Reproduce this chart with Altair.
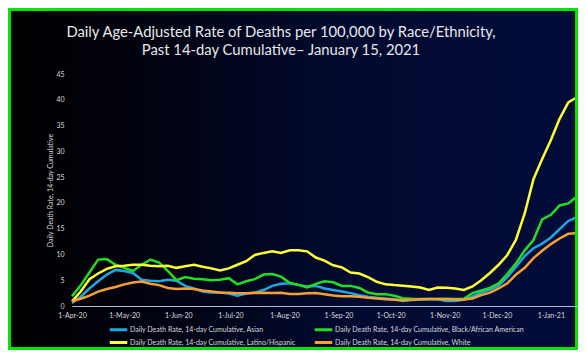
import altair as alt
import pandas as pd

# ---- data (every 5 days from 1-Apr-2020, last point 15-Jan-2021)
day_offsets = list(range(0, 290, 5)) + [289]

asian = [0.6, 1.8, 3.4, 4.8, 6.1, 7.0, 6.8, 6.4, 5.1, 4.9, 4.8, 5.1, 4.9, 3.9, 3.4, 2.8, 2.6, 2.6, 2.4, 2.0,
         2.4, 2.6, 3.1, 3.9, 4.3, 4.4, 4.1, 3.8, 3.9, 3.4, 3.1, 2.8, 2.5, 2.1, 1.8, 1.6, 1.45, 1.3, 0.95, 1.15,
         1.25, 1.3, 1.3, 0.95, 0.95, 1.2, 1.8, 2.6, 3.2, 4.0, 5.6, 7.6, 9.7, 11.2, 12.1, 13.3, 14.9, 16.5, 17.1]
black = [1.9, 4.0, 6.5, 9.0, 9.1, 8.0, 7.4, 6.8, 8.0, 9.0, 8.4, 6.8, 5.0, 5.6, 5.3, 5.2, 5.0, 5.1, 5.4, 4.2,
         4.8, 5.2, 6.1, 6.2, 5.7, 4.5, 4.1, 3.6, 4.3, 4.8, 4.6, 3.9, 3.9, 3.5, 2.6, 2.3, 2.3, 2.0, 1.5, 1.4,
         1.35, 1.35, 1.35, 1.4, 1.35, 1.4, 2.5, 3.0, 3.5, 4.4, 6.2, 8.3, 10.8, 12.8, 16.8, 17.7, 19.5, 19.9, 21.0]
latino = [0.9, 2.8, 5.2, 6.3, 7.2, 7.7, 7.8, 8.0, 8.0, 7.8, 7.7, 7.8, 7.4, 7.7, 8.0, 7.6, 7.3, 6.9, 7.3, 8.0,
          8.7, 9.9, 10.3, 10.6, 10.3, 10.8, 10.8, 10.6, 9.4, 8.8, 7.9, 7.5, 6.5, 6.3, 5.6, 4.7, 4.2, 4.05, 3.95, 3.8,
          3.6, 3.1, 3.6, 3.55, 3.4, 3.1, 3.8, 5.0, 6.4, 8.0, 9.9, 12.9, 18.0, 24.6, 28.5, 32.2, 36.3, 39.5, 40.3]
white = [0.9, 1.4, 2.0, 2.8, 3.3, 3.7, 4.2, 4.55, 4.75, 4.3, 4.05, 3.5, 3.3, 3.4, 3.3, 3.0, 2.8, 2.6, 2.55, 2.45,
         2.45, 2.5, 2.55, 2.5, 2.55, 2.35, 2.35, 2.45, 2.5, 2.3, 2.05, 1.9, 1.9, 1.8, 1.6, 1.45, 1.3, 1.2, 1.1, 1.2,
         1.3, 1.35, 1.35, 1.3, 1.25, 1.25, 1.45, 2.1, 2.6, 3.4, 4.4, 6.1, 7.4, 9.3, 10.7, 12.0, 13.1, 14.0, 14.1]

series_names = [
    "Daily Death Rate, 14-day Cumulative, Asian",
    "Daily Death Rate, 14-day Cumulative, Black/African American",
    "Daily Death Rate, 14-day Cumulative, Latino/Hispanic",
    "Daily Death Rate, 14-day Cumulative, White",
]
series_colors = ["#22a6e2", "#22dd22", "#ffff33", "#f5a030"]
series_values = [asian, black, latino, white]

month_ticks = ["2020-04-01", "2020-05-01", "2020-06-01", "2020-07-01", "2020-08-01",
               "2020-09-01", "2020-10-01", "2020-11-01", "2020-12-01", "2021-01-01"]
y_ticks = [0, 5, 10, 15, 20, 25, 30, 35, 40, 45]

title_lines = ["Daily Age-Adjusted Rate of Deaths per 100,000 by Race/Ethnicity,",
               "Past 14-day Cumulative\u2013 January 15, 2021"]


def ms(s):
    return int(pd.Timestamp(s, tz="UTC").timestamp() * 1000)


start = pd.Timestamp("2020-04-01", tz="UTC")
rows = []
for name, vals in zip(series_names, series_values):
    for d, v in zip(day_offsets, vals):
        rows.append({"date": int((start + pd.Timedelta(days=d)).timestamp() * 1000),
                     "value": v, "series": name})
df = pd.DataFrame(rows)

W, H = 505, 232
PAD = {"left": 64, "top": 66, "right": 1, "bottom": 44}

one = pd.DataFrame({"a": [0]})

bg = alt.Chart(one).mark_rect(
    fill=alt.Gradient(
        gradient="linear", x1=0, x2=1, y1=0, y2=0,
        stops=[alt.GradientStop(color="#000000", offset=0),
               alt.GradientStop(color="#01020c", offset=0.2),
               alt.GradientStop(color="#020a30", offset=0.6),
               alt.GradientStop(color="#030b3a", offset=1)])
).encode(
    x=alt.value(-PAD["left"]), x2=alt.value(W + PAD["right"]),
    y=alt.value(-PAD["top"]), y2=alt.value(H + PAD["bottom"])
)

border = alt.Chart(one).mark_rect(
    fillOpacity=0, stroke="#00e600", strokeWidth=3
).encode(
    x=alt.value(-PAD["left"] + 1.5), x2=alt.value(W + PAD["right"] - 1.5),
    y=alt.value(-PAD["top"] + 1.5), y2=alt.value(H + PAD["bottom"] - 1.5)
)

title1 = alt.Chart(one).mark_text(
    text=title_lines[0], font="Lato", fontSize=14.8, color="#e8e8e8", align="center", baseline="middle"
).encode(x=alt.value(209), y=alt.value(-41))
title2 = alt.Chart(one).mark_text(
    text=title_lines[1], font="Lato", fontSize=14.8, color="#e8e8e8", align="center", baseline="middle"
).encode(x=alt.value(209), y=alt.value(-23))

lines = alt.Chart(df).mark_line(strokeWidth=2.5, interpolate="linear").encode(
    x=alt.X("date:T",
            scale=alt.Scale(type="utc", domain=[ms("2020-04-01"), ms("2021-01-16")]),
            axis=alt.Axis(values=[ms(t) for t in month_ticks], format="%-d-%b-%y",
                          title=None, grid=False, ticks=False, domainColor="#b8b8d0", domainWidth=1,
                          labelColor="#d9d9d9", labelFontSize=7, labelFont="Lato", labelPadding=5,
                          labelAlign="center", labelFlush=False, zindex=1)),
    y=alt.Y("value:Q",
            scale=alt.Scale(domain=[0, 45], nice=False),
            axis=alt.Axis(values=y_ticks, title="Daily Death Rate, 14-day Cumulative",
                          titleColor="#d9d9d9", titleFontSize=7, titleFont="Lato", titleFontWeight="normal",
                          titlePadding=2, grid=False, ticks=False, domain=False,
                          labelColor="#d9d9d9", labelFontSize=7, labelFont="Lato", labelPadding=8, zindex=1)),
    color=alt.Color("series:N",
                    scale=alt.Scale(domain=series_names, range=series_colors),
                    legend=alt.Legend(title=None, orient="none", legendX=40, legendY=249, columns=2,
                                      direction="horizontal", padding=0,
                                      columnPadding=12, rowPadding=0, symbolType="M-1.75,0H1.75",
                                      symbolSize=100, symbolStrokeWidth=3, labelColor="#d9d9d9",
                                      labelFontSize=7, labelFont="Lato", labelOffset=5, labelLimit=300,
                                      zindex=1))
)

chart = alt.layer(bg, lines, title1, title2, border).properties(
    width=W, height=H,
    autosize=alt.AutoSizeParams(type="none"),
    padding=PAD,
    background="#000010",
).configure_view(stroke=None)

chart.save("out.html", embed_options={"renderer": "svg", "actions": False})
